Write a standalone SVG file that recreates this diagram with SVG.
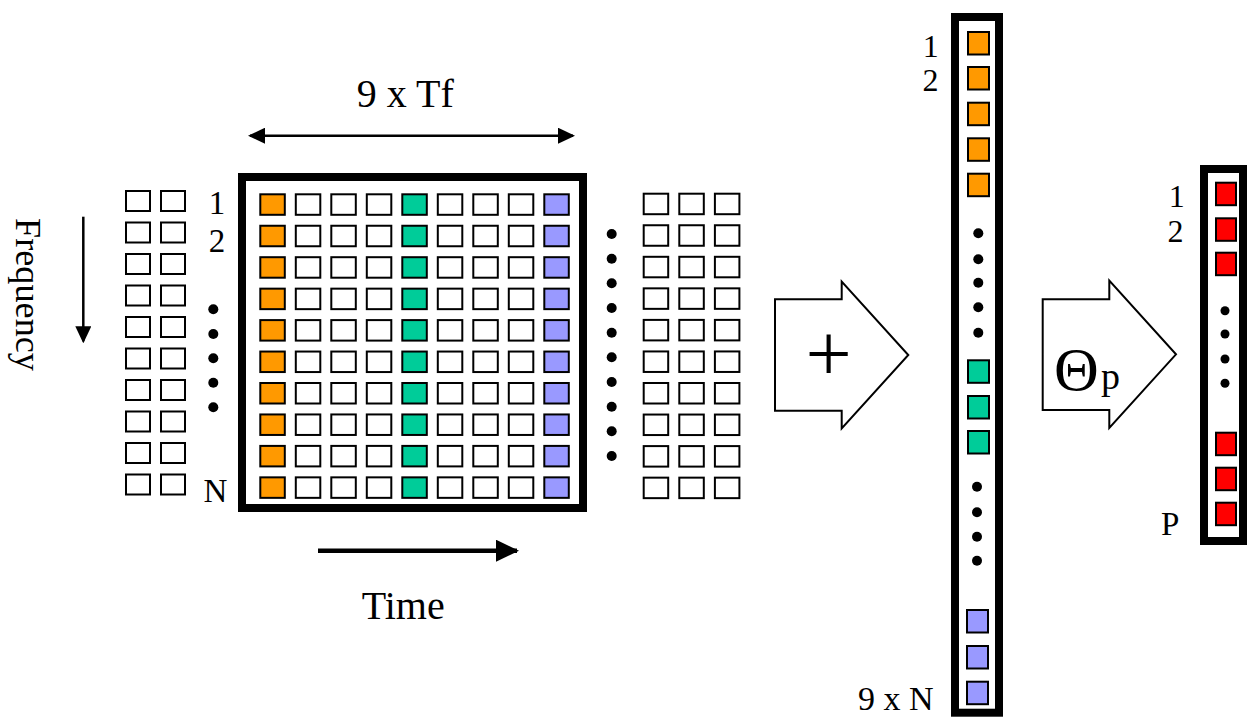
<svg xmlns="http://www.w3.org/2000/svg" xmlns:xlink="http://www.w3.org/1999/xlink" width="1247" height="721" viewBox="0 0 1247 721">
<style>
.c{fill:#fff;stroke:#000;stroke-width:2}
.o{fill:#FF9900;stroke:#000;stroke-width:2}
.t{fill:#00CC99;stroke:#000;stroke-width:2}
.v{fill:#9999FF;stroke:#000;stroke-width:2}
.r{fill:#FF0000;stroke:#000;stroke-width:2}
.frame{fill:#fff;stroke:#000;stroke-width:8}
.dot{fill:#000}
.lbl{font-family:"Liberation Serif","Times New Roman",serif;fill:#000}
.blk{fill:#fff;stroke:#000;stroke-width:2;stroke-linejoin:miter}
.ln{stroke:#000;fill:none}
</style>
<defs>
<marker id="ah" viewBox="0 0 17 16" refX="15" refY="8" markerWidth="17" markerHeight="16" markerUnits="userSpaceOnUse" orient="auto-start-reverse"><path d="M0,0 L17,8 L0,16 z" fill="#000"/></marker>
<marker id="ah2" viewBox="0 0 23 22" refX="21" refY="11" markerWidth="23" markerHeight="22" markerUnits="userSpaceOnUse" orient="auto"><path d="M0,0 L23,11 L0,22 z" fill="#000"/></marker>
<g id="mainRow">
<rect class="o" x="260.3" y="0" width="24.5" height="20.5"/>
<rect class="c" x="295.8" y="0" width="24.5" height="20.5"/>
<rect class="c" x="331.3" y="0" width="24.5" height="20.5"/>
<rect class="c" x="366.8" y="0" width="24.5" height="20.5"/>
<rect class="t" x="402.3" y="0" width="24.5" height="20.5"/>
<rect class="c" x="437.8" y="0" width="24.5" height="20.5"/>
<rect class="c" x="473.3" y="0" width="24.5" height="20.5"/>
<rect class="c" x="508.8" y="0" width="24.5" height="20.5"/>
<rect class="v" x="544.3" y="0" width="24.5" height="20.5"/>
</g>
<g id="leftRow">
<rect class="c" x="126" y="0" width="24" height="20"/>
<rect class="c" x="161" y="0" width="24" height="20"/>
</g>
<g id="rightRow">
<rect class="c" x="643.7" y="0" width="24.5" height="20.5"/>
<rect class="c" x="679.3" y="0" width="24.5" height="20.5"/>
<rect class="c" x="714.9" y="0" width="24.5" height="20.5"/>
</g>
</defs>

<g id="left-grid">
<use xlink:href="#leftRow" y="191"/>
<use xlink:href="#leftRow" y="222.5"/>
<use xlink:href="#leftRow" y="254"/>
<use xlink:href="#leftRow" y="285.5"/>
<use xlink:href="#leftRow" y="317"/>
<use xlink:href="#leftRow" y="348.5"/>
<use xlink:href="#leftRow" y="380"/>
<use xlink:href="#leftRow" y="411.5"/>
<use xlink:href="#leftRow" y="443"/>
<use xlink:href="#leftRow" y="474.5"/>
<circle class="dot" cx="213.3" cy="309.3" r="5"/>
<circle class="dot" cx="213.3" cy="334" r="5"/>
<circle class="dot" cx="213.3" cy="358.3" r="5"/>
<circle class="dot" cx="213.3" cy="382.7" r="5"/>
<circle class="dot" cx="213.3" cy="407.3" r="5"/>
<text class="lbl" x="217" y="214" font-size="33" text-anchor="middle">1</text>
<text class="lbl" x="217" y="252" font-size="33" text-anchor="middle">2</text>
<text class="lbl" x="215.3" y="502" font-size="33" text-anchor="middle">N</text>
</g>

<g id="main-grid">
<rect class="frame" x="242" y="177" width="341" height="331"/>
<use xlink:href="#mainRow" y="194.3"/>
<use xlink:href="#mainRow" y="225.75"/>
<use xlink:href="#mainRow" y="257.2"/>
<use xlink:href="#mainRow" y="288.65"/>
<use xlink:href="#mainRow" y="320.1"/>
<use xlink:href="#mainRow" y="351.55"/>
<use xlink:href="#mainRow" y="383"/>
<use xlink:href="#mainRow" y="414.45"/>
<use xlink:href="#mainRow" y="445.9"/>
<use xlink:href="#mainRow" y="477.35"/>
</g>

<g id="right-grid">
<use xlink:href="#rightRow" y="193.7"/>
<use xlink:href="#rightRow" y="225.25"/>
<use xlink:href="#rightRow" y="256.8"/>
<use xlink:href="#rightRow" y="288.35"/>
<use xlink:href="#rightRow" y="319.9"/>
<use xlink:href="#rightRow" y="351.45"/>
<use xlink:href="#rightRow" y="383"/>
<use xlink:href="#rightRow" y="414.55"/>
<use xlink:href="#rightRow" y="446.1"/>
<use xlink:href="#rightRow" y="477.65"/>
<circle class="dot" cx="611.7" cy="234" r="5"/>
<circle class="dot" cx="611.7" cy="258.7" r="5"/>
<circle class="dot" cx="611.7" cy="283.3" r="5"/>
<circle class="dot" cx="611.7" cy="308" r="5"/>
<circle class="dot" cx="611.7" cy="332.7" r="5"/>
<circle class="dot" cx="611.7" cy="357.3" r="5"/>
<circle class="dot" cx="611.7" cy="382" r="5"/>
<circle class="dot" cx="611.7" cy="406.7" r="5"/>
<circle class="dot" cx="611.7" cy="431.3" r="5"/>
<circle class="dot" cx="611.7" cy="456" r="5"/>
</g>

<g id="labels">
<text class="lbl" x="356.7" y="107.3" font-size="40">9 x Tf</text>
<text class="lbl" x="361.7" y="619" font-size="40">Time</text>
<text class="lbl" transform="translate(16,218) rotate(90)" font-size="36" textLength="153" lengthAdjust="spacingAndGlyphs">Frequency</text>
</g>

<g id="connectors">
<line class="ln" x1="250" y1="135.7" x2="573" y2="135.7" stroke-width="2.5" marker-start="url(#ah)" marker-end="url(#ah)"/>
<line class="ln" x1="318" y1="550.7" x2="517" y2="550.7" stroke-width="4.5" marker-end="url(#ah2)"/>
<line class="ln" x1="83.3" y1="216.7" x2="83.3" y2="341.3" stroke-width="2.5" marker-end="url(#ah)"/>
</g>

<g id="sum-arrow">
<polygon class="blk" points="775,299.3 841.7,299.3 841.7,281.7 908.3,355 841.7,428.3 841.7,410.7 775,410.7"/>
<text class="lbl" x="828.5" y="381" font-size="82" text-anchor="middle">+</text>
</g>

<g id="theta-arrow">
<polygon class="blk" points="1042.7,299.3 1109.3,299.3 1109.3,280.7 1176,354.3 1109.3,428 1109.3,410 1042.7,410"/>
<text class="lbl" x="1054" y="390" font-size="62">Θ</text>
<text class="lbl" x="1101" y="389" font-size="38">p</text>
</g>

<g id="feature-vector">
<rect class="frame" x="955" y="17" width="44" height="695.7"/>
<rect class="o" x="968" y="32" width="21" height="22.5"/>
<rect class="o" x="968" y="67" width="21" height="22.5"/>
<rect class="o" x="968" y="102.7" width="21" height="22.5"/>
<rect class="o" x="968" y="138.3" width="21" height="22.5"/>
<rect class="o" x="968" y="173.7" width="21" height="22.5"/>
<circle class="dot" cx="978.3" cy="233.3" r="5"/>
<circle class="dot" cx="978.3" cy="259.3" r="5"/>
<circle class="dot" cx="978.3" cy="282.7" r="5"/>
<circle class="dot" cx="978.3" cy="307.3" r="5"/>
<circle class="dot" cx="978.3" cy="332.7" r="5"/>
<rect class="t" x="968" y="360.3" width="21" height="22.5"/>
<rect class="t" x="968" y="396" width="21" height="22.5"/>
<rect class="t" x="968" y="431" width="21" height="22.5"/>
<circle class="dot" cx="977" cy="486.7" r="5"/>
<circle class="dot" cx="977" cy="512.3" r="5"/>
<circle class="dot" cx="977" cy="536.7" r="5"/>
<circle class="dot" cx="977" cy="560.7" r="5"/>
<rect class="v" x="967" y="610" width="21" height="22.5"/>
<rect class="v" x="967" y="646" width="21" height="22.5"/>
<rect class="v" x="967" y="681.7" width="21" height="22.5"/>
<text class="lbl" x="930.8" y="56.7" font-size="32" text-anchor="middle">1</text>
<text class="lbl" x="930.5" y="91" font-size="32" text-anchor="middle">2</text>
<text class="lbl" x="895.8" y="710" font-size="34" text-anchor="middle">9 x N</text>
</g>

<g id="output-vector">
<rect class="frame" x="1204" y="169" width="39" height="372"/>
<rect class="r" x="1216" y="182.7" width="20" height="22.5"/>
<rect class="r" x="1216" y="218.3" width="20" height="22.5"/>
<rect class="r" x="1216" y="252.7" width="20" height="22.5"/>
<circle class="dot" cx="1225" cy="310.7" r="4.5"/>
<circle class="dot" cx="1225" cy="334" r="4.5"/>
<circle class="dot" cx="1225" cy="359" r="4.5"/>
<circle class="dot" cx="1225" cy="383.3" r="4.5"/>
<rect class="r" x="1216" y="432.7" width="20" height="22.5"/>
<rect class="r" x="1216" y="467.7" width="20" height="22.5"/>
<rect class="r" x="1216" y="502.7" width="20" height="22.5"/>
<text class="lbl" x="1176.7" y="207" font-size="32" text-anchor="middle">1</text>
<text class="lbl" x="1175.5" y="242" font-size="32" text-anchor="middle">2</text>
<text class="lbl" x="1161" y="535" font-size="33">P</text>
</g>
</svg>
